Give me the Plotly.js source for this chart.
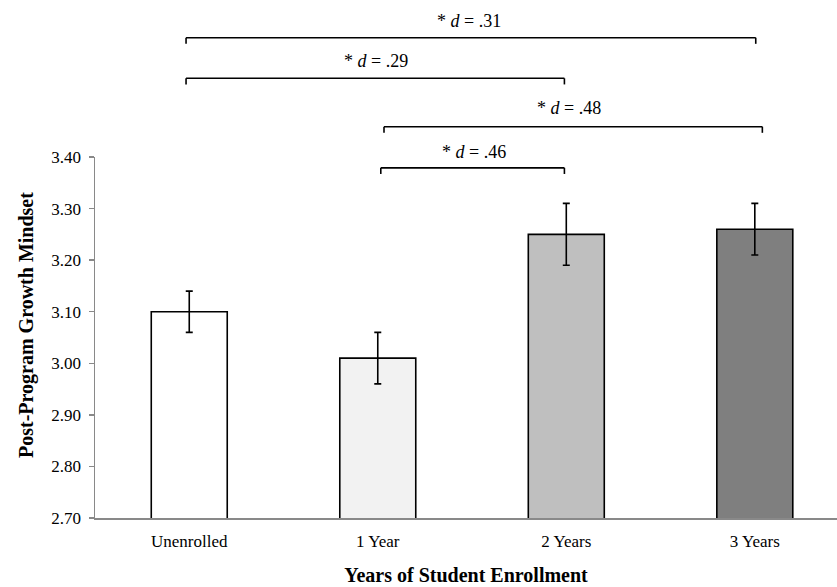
<!DOCTYPE html>
<html>
<head>
<meta charset="utf-8">
<script src="https://cdn.plot.ly/plotly-3.0.1.min.js"></script>
<style>html,body{margin:0;padding:0;background:#fff;}#chart{width:837px;height:587px;}</style>
</head>
<body>
<div id="chart"></div>
<script>
// ---- data ----
var categories = ["Unenrolled", "1 Year", "2 Years", "3 Years"];
var means = [3.10, 3.01, 3.25, 3.26];
var errors = [0.04, 0.05, 0.06, 0.05];
var yTickVals = [2.70, 2.80, 2.90, 3.00, 3.10, 3.20, 3.30, 3.40];
var bracketFrom = [0, 0, 1, 1];
var bracketTo = [3, 2, 3, 2];
var bracketLabels = [".31", ".29", ".48", ".46"];
var yTitle = "Post-Program Growth Mindset";
var xTitle = "Years of Student Enrollment";

// ---- styling / positions ----
var barColors = ["#ffffff", "#f2f2f2", "#bfbfbf", "#7f7f7f"];
var bracketY = [1.3305, 1.218, 1.084, 0.970];       // paper coords of horizontal line
var bracketDrop = 0.017;
var bracketOffL = [-0.017, -0.017, 0.033, 0.016];
var bracketOffR = [0.005, -0.01, 0.040, -0.01];
var labelY = [1.3776, 1.2668, 1.1357, 1.0147];
var labelX = [1.484, 0.991, 2.015, 1.511];

var serif = "Liberation Serif, Times New Roman, serif";

var trace = {
  type: "bar",
  x: categories,
  y: means,
  marker: {color: barColors, line: {color: "#000000", width: 1.6}},
  error_y: {type: "data", array: errors, visible: true, color: "#000000", thickness: 1.6, width: 3.5},
  hoverinfo: "none"
};

var shapes = [];
var annotations = [];
for (var i = 0; i < bracketFrom.length; i++) {
  var xl = bracketFrom[i] + bracketOffL[i];
  var xr = bracketTo[i] + bracketOffR[i];
  var y = bracketY[i];
  var ln = {color: "#000000", width: 1.6};
  shapes.push({type: "line", xref: "x", yref: "paper", x0: xl, x1: xr, y0: y, y1: y, line: ln});
  shapes.push({type: "line", xref: "x", yref: "paper", x0: xl, x1: xl, y0: y, y1: y - bracketDrop, line: ln});
  shapes.push({type: "line", xref: "x", yref: "paper", x0: xr, x1: xr, y0: y, y1: y - bracketDrop, line: ln});
  annotations.push({
    xref: "x", yref: "paper", x: labelX[i], y: labelY[i],
    text: "* <i>d</i> = " + bracketLabels[i], showarrow: false,
    font: {family: serif, size: 18, color: "#000000"},
    xanchor: "center", yanchor: "middle"
  });
}
// y-axis title placed as a rotated annotation
annotations.push({
  xref: "paper", yref: "paper", x: -0.093, y: 0.5346,
  text: "<b>" + yTitle + "</b>", showarrow: false, textangle: -90,
  font: {family: serif, size: 20, color: "#000000"},
  xanchor: "center", yanchor: "middle"
});

var layout = {
  width: 837, height: 587,
  margin: {l: 95, r: 0, t: 157, b: 69},
  paper_bgcolor: "#ffffff", plot_bgcolor: "#ffffff",
  showlegend: false,
  bargap: 0.597,
  font: {family: serif, color: "#000000"},
  xaxis: {
    type: "category",
    range: [-0.5, 3.436],
    showline: true, linecolor: "#898989", linewidth: 1.5,
    ticks: "", showgrid: false, zeroline: false,
    tickfont: {family: serif, size: 17, color: "#000000"},
    ticklabelstandoff: 7,
    title: {text: "<b>" + xTitle + "</b>", font: {family: serif, size: 20, color: "#000000"}, standoff: 18},
    fixedrange: true
  },
  yaxis: {
    range: [2.70, 3.40],
    tickvals: yTickVals,
    tickformat: ".2f",
    showline: true, linecolor: "#898989", linewidth: 1.5,
    ticks: "outside", ticklen: 5, tickcolor: "#898989", tickwidth: 1.5,
    showgrid: false, zeroline: false,
    tickfont: {family: serif, size: 17, color: "#000000"},
    ticklabelstandoff: 4,
    fixedrange: true
  },
  shapes: shapes,
  annotations: annotations
};

Plotly.newPlot("chart", [trace], layout, {displayModeBar: false, staticPlot: true});
</script>
</body>
</html>
